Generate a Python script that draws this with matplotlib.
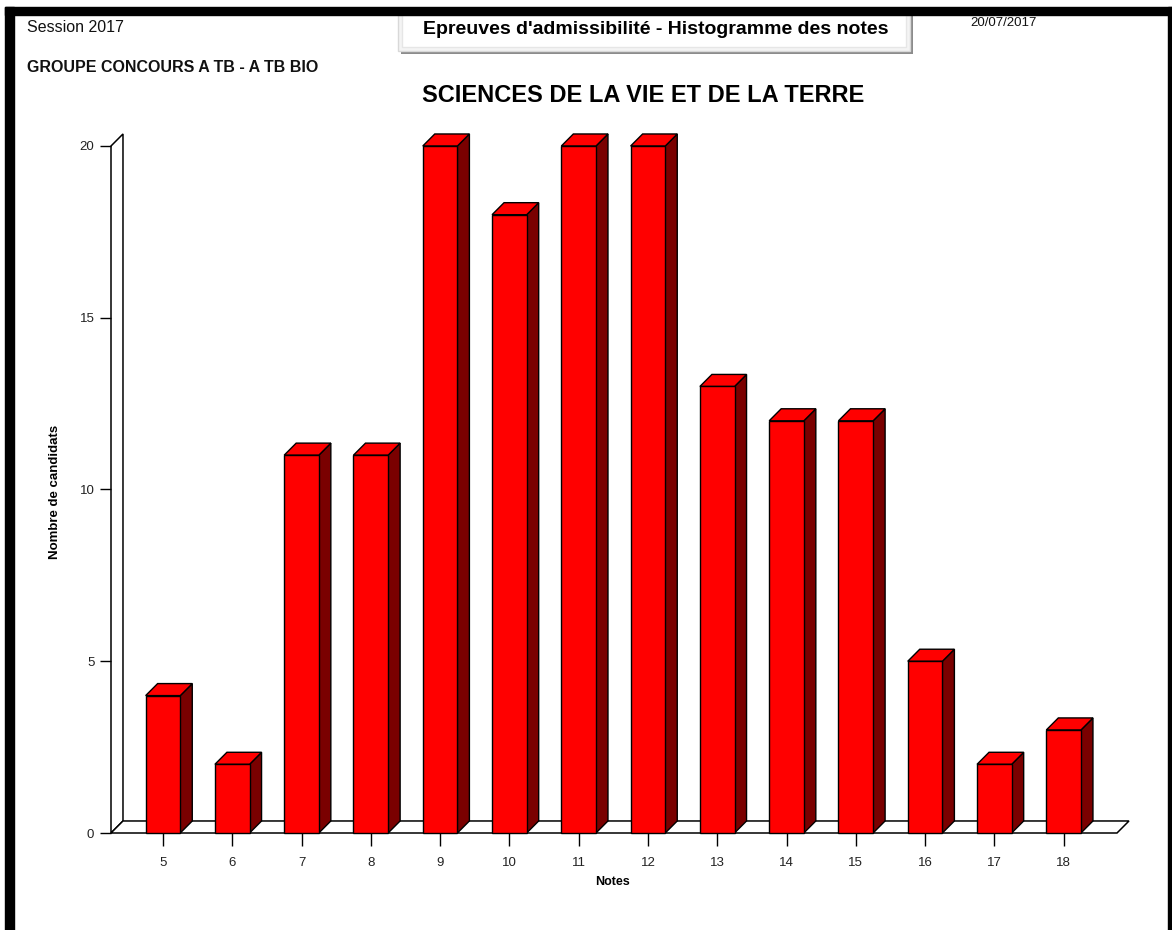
import matplotlib.pyplot as plt
from matplotlib.patches import Polygon, Rectangle

plt.rcParams['font.family'] = ['Liberation Sans', 'DejaVu Sans']

# data
notes = [5, 6, 7, 8, 9, 10, 11, 12, 13, 14, 15, 16, 17, 18]
candidats = [4, 2, 11, 11, 20, 18, 20, 20, 13, 12, 12, 5, 2, 3]
y_ticks = [0, 5, 10, 15, 20]

W, H = 1172, 930
fig = plt.figure(figsize=(W / 100, H / 100), dpi=100)
fig.patch.set_facecolor('white')


def fx(px):
    return px / W


def fy(py):
    return 1 - py / H


# page frame
fig.patches.append(Rectangle((fx(5), fy(15)), fx(1167), 8 / H, transform=fig.transFigure,
                             color='black', zorder=5))
fig.patches.append(Rectangle((fx(5), 0), fx(9), fy(7), transform=fig.transFigure,
                             color='black', zorder=5))
fig.patches.append(Rectangle((fx(1168), 0), fx(4), fy(7), transform=fig.transFigure,
                             color='black', zorder=5))

# header box with shadow
fig.patches.append(Rectangle((fx(401), fy(54)), fx(512), 38 / H, transform=fig.transFigure,
                             facecolor='#8c8c8c', edgecolor='none', zorder=3))
fig.patches.append(Rectangle((fx(398), fy(51)), fx(512), 36 / H, transform=fig.transFigure,
                             facecolor='#f4f4f4', edgecolor='#d8d8d8', lw=1, zorder=4))
fig.patches.append(Rectangle((fx(402), fy(47)), fx(504), 32 / H, transform=fig.transFigure,
                             facecolor='white', edgecolor='#e6e6e6', lw=1, zorder=4))
fig.text(fx(656), fy(30), "Epreuves d'admissibilité - Histogramme des notes", ha='center',
         va='center', fontsize=14, fontweight='bold', zorder=6)

fig.text(fx(27), fy(28), 'Session 2017', ha='left', va='center', fontsize=11.5, color='#111111')
fig.text(fx(27), fy(67), 'GROUPE CONCOURS A TB - A TB BIO', ha='left', va='center',
         fontsize=11.5, fontweight='bold', color='#111111')
fig.text(fx(970), fy(23), '20/07/2017', ha='left', va='center', fontsize=9.5, color='#111111')
fig.text(fx(643), fy(95), 'SCIENCES DE LA VIE ET DE LA TERRE', ha='center', va='center',
         fontsize=17, fontweight='bold')

# plotting area: front wall at x=111px, value 0 at 833px, value 20 at 146px
ax = fig.add_axes([fx(111), fy(833), fx(1117 - 111), (833 - 146) / H])
ax.set_xlim(4.25, 18.77)
ax.set_ylim(0, 20)
for s in ax.spines.values():
    s.set_visible(False)
ax.patch.set_visible(False)

dx, dy = 0.173, 0.35  # depth of the 3D effect, in data units
x0, x1 = ax.get_xlim()
ymax = max(y_ticks)

# back wall and floor
ax.add_patch(Polygon([(x0, 0), (x0, ymax), (x0 + dx, ymax + dy), (x0 + dx, dy)],
                     closed=True, facecolor='white', edgecolor='black', lw=1.1, zorder=1,
                     clip_on=False))
ax.add_patch(Polygon([(x0, 0), (x1, 0), (x1 + dx, dy), (x0 + dx, dy)],
                     closed=True, facecolor='white', edgecolor='black', lw=1.1, zorder=1,
                     clip_on=False))

hw = 0.25
for n, v in zip(notes, candidats):
    side = [(n + hw, 0), (n + hw + dx, dy), (n + hw + dx, v + dy), (n + hw, v)]
    top = [(n - hw, v), (n - hw + dx, v + dy), (n + hw + dx, v + dy), (n + hw, v)]
    ax.add_patch(Polygon(side, closed=True, facecolor='#7a0000', edgecolor='black', lw=1,
                         zorder=2, clip_on=False))
    ax.add_patch(Polygon(top, closed=True, facecolor='#ff0000', edgecolor='black', lw=1,
                         zorder=2, clip_on=False))
    ax.add_patch(Rectangle((n - hw, 0), 2 * hw, v, facecolor='#ff0000', edgecolor='black',
                           lw=1, zorder=2, clip_on=False))

ax.set_xticks(notes)
ax.set_xticklabels([str(n) for n in notes])
ax.set_yticks(y_ticks)
ax.set_yticklabels([str(t) for t in y_ticks])
ax.tick_params(axis='x', direction='inout', length=18, width=1, pad=8, labelsize=9.5,
               labelcolor='#222222')
ax.tick_params(axis='y', direction='out', length=8, width=1, pad=4, labelsize=9.5,
               labelcolor='#222222')
for t in ax.xaxis.get_major_ticks() + ax.yaxis.get_major_ticks():
    t.tick1line.set_zorder(3)

fig.text(fx(613), fy(882), 'Notes', ha='center', va='center', fontsize=9, fontweight='bold')
fig.text(fx(55), fy(492), 'Nombre de candidats', ha='center', va='center', rotation=90,
         fontsize=9.5, fontweight='bold')

fig.savefig('out.png', dpi=100)
